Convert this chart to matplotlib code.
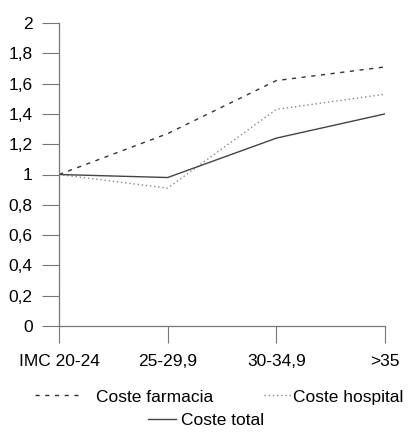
import matplotlib.pyplot as plt
import numpy as np

plt.rcParams['font.family'] = ['Liberation Sans', 'DejaVu Sans']

categorias = ['IMC 20-24', '25-29,9', '30-34,9', '>35']
coste_farmacia = [1.0, 1.27, 1.62, 1.71]
coste_hospital = [1.0, 0.91, 1.43, 1.53]
coste_total = [1.0, 0.98, 1.24, 1.40]
yticks = [0, 0.2, 0.4, 0.6, 0.8, 1, 1.2, 1.4, 1.6, 1.8, 2]

W, H = 413, 437
fig = plt.figure(figsize=(W / 100, H / 100), dpi=100)
ax = fig.add_axes([59 / W, 1 - 326 / H, (385 - 59) / W, (326 - 23) / H])

x = np.arange(len(categorias))
l1, = ax.plot(x, coste_farmacia, linestyle=(0, (3, 4)), color='#333333', lw=1.0, label='Coste farmacia')
l2, = ax.plot(x, coste_hospital, linestyle=(0, (1, 2)), color='#888888', lw=1.0, label='Coste hospital')
l3, = ax.plot(x, coste_total, linestyle='-', color='#444444', lw=1.0, label='Coste total')

ax.set_xlim(0, 3)
ax.set_ylim(0, 2)
ax.set_xticks(x)
ax.set_xticklabels(categorias)
ax.set_yticks(yticks)
ax.set_yticklabels([('%g' % v).replace('.', ',') for v in yticks])

for s in ['top', 'right']:
    ax.spines[s].set_visible(False)
for s in ['left', 'bottom']:
    ax.spines[s].set_color('#777777')
    ax.spines[s].set_linewidth(0.9)
    ax.spines[s].set_linestyle((0, (1, 1)))

ax.tick_params(axis='y', length=12, width=0.8, color='#777777', labelsize=12.5, pad=7)
ax.tick_params(axis='x', length=12, width=0.8, color='#777777', labelsize=12.5, pad=8)
for t in ax.yaxis.get_major_ticks() + ax.xaxis.get_major_ticks():
    t.tick1line.set_linestyle((0, (1, 1)))

# leyenda: tres entradas colocadas como en el original
entradas = [(l1, 35, 397, 2.6, 0.9), (l2, 264, 397, 1.55, 0.1), (l3, 148, 420, 1.6, 0.3)]
for h, px, py, hl, tp in entradas:
    fig.legend(handles=[h], loc='center left', bbox_to_anchor=(px / W, 1 - py / H),
               frameon=False, fontsize=12.5, handlelength=hl, handletextpad=tp,
               borderpad=0, borderaxespad=0)

fig.savefig('out.png', dpi=100)
